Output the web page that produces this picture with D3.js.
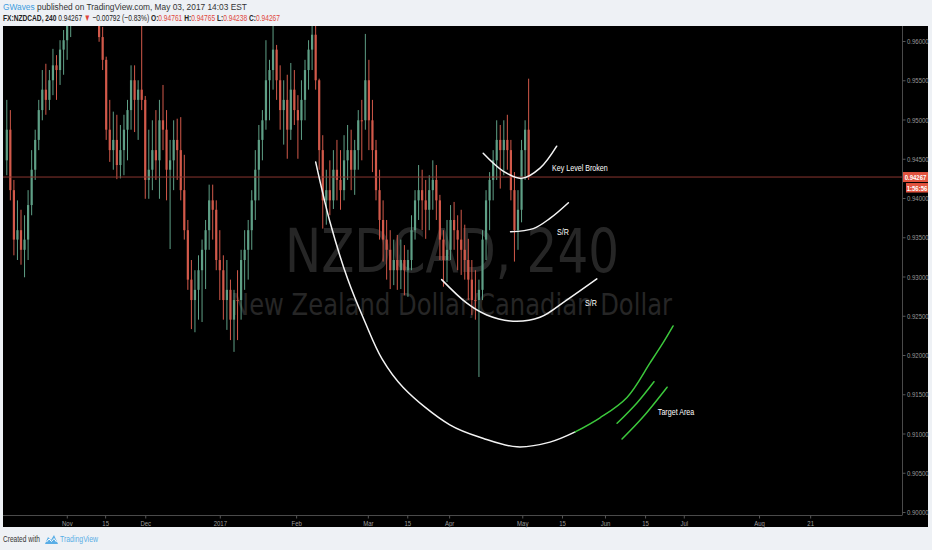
<!DOCTYPE html>
<html><head><meta charset="utf-8">
<script src="https://cdn.jsdelivr.net/npm/d3@7"></script>
<style>
html,body{margin:0;padding:0;background:#eef1f5;}
svg{display:block;font-family:"Liberation Sans",Arial,sans-serif;}
</style></head><body>
<svg id="c" width="932" height="550"></svg>
<script>
// ---- DATA (daily bars, NZDCAD) ----
const opens=[.9448,.9487,.9410,.9347,.9359,.9334,.9347,.9391,.9436,.9474,.9512,.9538,.9525,.9550,.9569,.9563,.9589,.9601,.9620,.9660,
.9700,.9730,.9720,.9700,.9690,.9660,.9640,.9605,.9576,.9487,.9461,.9474,.9442,.9461,.9487,.9512,.9550,.9525,.9538,.9525,
.9423,.9436,.9461,.9448,.9499,.9487,.9436,.9448,.9474,.9461,.9410,.9359,.9296,.9270,.9283,.9308,.9334,.9359,.9397,.9385,
.9321,.9308,.9270,.9283,.9245,.9270,.9270,.9321,.9334,.9359,.9397,.9436,.9474,.9499,.9550,.9563,.9589,.9550,.9512,.9525,
.9487,.9538,.9512,.9499,.9525,.9563,.9589,.9608,.9550,.9461,.9397,.9410,.9397,.9436,.9423,.9410,.9448,.9461,.9436,.9461,
.9499,.9499,.9550,.9499,.9461,.9410,.9372,.9347,.9334,.9308,.9321,.9308,.9321,.9308,.9321,.9359,.9397,.9410,.9397,.9385,
.9410,.9423,.9397,.9347,.9321,.9334,.9372,.9359,.9347,.9334,.9321,.9296,.9270,.9270,.9283,.9347,.9397,.9423,.9448,.9474,
.9461,.9474,.9461,.9410,.9359,.9385,.9461,.9487];
const highs=[.9525,.9512,.9423,.9397,.9385,.9378,.9410,.9461,.9487,.9525,.9563,.9571,.9563,.9590,.9582,.9601,.9614,.9639,.9680,.9720,
.9750,.9770,.9740,.9720,.9700,.9680,.9650,.9618,.9580,.9525,.9510,.9506,.9493,.9506,.9525,.9569,.9569,.9550,.9625,.9530,
.9487,.9499,.9512,.9525,.9544,.9512,.9474,.9499,.9501,.9503,.9455,.9372,.9321,.9308,.9327,.9347,.9372,.9417,.9417,.9397,
.9359,.9327,.9321,.9296,.9283,.9308,.9334,.9359,.9372,.9410,.9461,.9493,.9512,.9601,.9576,.9630,.9595,.9569,.9550,.9557,
.9572,.9563,.9531,.9550,.9576,.9601,.9630,.9625,.9552,.9480,.9436,.9448,.9461,.9474,.9461,.9480,.9493,.9487,.9474,.9512,
.9525,.9609,.9576,.9525,.9474,.9436,.9397,.9372,.9359,.9347,.9353,.9347,.9340,.9334,.9378,.9410,.9442,.9436,.9423,.9429,
.9448,.9442,.9404,.9359,.9372,.9391,.9395,.9378,.9385,.9366,.9348,.9321,.9308,.9296,.9359,.9410,.9433,.9461,.9499,.9493,
.9499,.9506,.9474,.9433,.9410,.9474,.9499,.9552];
const lows=[.9429,.9397,.9327,.9321,.9315,.9299,.9321,.9378,.9423,.9461,.9499,.9506,.9512,.9531,.9525,.9544,.9557,.9576,.9605,.9650,
.9690,.9700,.9680,.9660,.9640,.9625,.9599,.9563,.9474,.9446,.9436,.9424,.9425,.9429,.9448,.9487,.9484,.9474,.9512,.9399,
.9399,.9410,.9423,.9399,.9461,.9397,.9335,.9410,.9423,.9397,.9347,.9283,.9233,.9229,.9245,.9242,.9284,.9334,.9347,.9308,
.9270,.9245,.9232,.9219,.9204,.9219,.9245,.9283,.9296,.9334,.9372,.9397,.9448,.9487,.9499,.9538,.9525,.9487,.9468,.9450,
.9474,.9493,.9450,.9474,.9499,.9538,.9563,.9538,.9436,.9361,.9366,.9378,.9386,.9397,.9385,.9397,.9423,.9410,.9404,.9436,
.9448,.9487,.9461,.9433,.9397,.9347,.9319,.9296,.9284,.9289,.9283,.9284,.9276,.9274,.9308,.9347,.9372,.9359,.9348,.9359,
.9385,.9372,.9321,.9287,.9293,.9321,.9334,.9308,.9302,.9296,.9270,.9251,.9245,.9172,.9270,.9321,.9359,.9397,.9423,.9412,
.9429,.9436,.9397,.9319,.9334,.9369,.9423,.9423];
const closes=[.9487,.9410,.9347,.9359,.9334,.9347,.9391,.9436,.9474,.9512,.9538,.9525,.9550,.9569,.9563,.9589,.9601,.9620,.9660,.9700,
.9730,.9720,.9700,.9690,.9660,.9640,.9605,.9576,.9487,.9461,.9474,.9442,.9461,.9487,.9512,.9550,.9525,.9538,.9525,.9423,
.9436,.9461,.9448,.9499,.9487,.9436,.9448,.9474,.9461,.9410,.9359,.9296,.9270,.9283,.9308,.9334,.9359,.9397,.9385,.9321,
.9308,.9270,.9283,.9245,.9270,.9270,.9321,.9334,.9359,.9397,.9436,.9474,.9499,.9550,.9563,.9589,.9550,.9512,.9525,.9487,
.9538,.9512,.9499,.9525,.9563,.9589,.9608,.9550,.9461,.9397,.9410,.9397,.9436,.9423,.9410,.9448,.9461,.9436,.9461,.9499,
.9499,.9550,.9499,.9461,.9410,.9372,.9347,.9334,.9308,.9321,.9308,.9321,.9308,.9321,.9359,.9397,.9410,.9397,.9385,.9410,
.9423,.9397,.9347,.9321,.9334,.9372,.9359,.9347,.9334,.9321,.9296,.9270,.9270,.9283,.9347,.9397,.9423,.9448,.9474,.9461,
.9474,.9461,.9410,.9359,.9385,.9461,.9487,.94267];

const timeTickLabels=["Nov","15","Dec","2017","Feb","Mar","15","Apr","May","15","Jun","15","Jul","Aug","21"];
const timeTickIndex=[16.9,27.7,39.0,60.0,81.5,101.7,112.8,124.6,145.2,156.4,168.5,179.8,190.7,211.9,226.3];
const priceTicks=[0.900,0.905,0.910,0.915,0.920,0.925,0.930,0.935,0.940,0.945,0.950,0.955,0.960];
const lastPrice=0.94267;

// annotation drawings (bar index, price)
const bigArc=[[87.0,0.9446],[91.0,0.9370],[96.0,0.9297],[100.9,0.9242],[105.7,0.9195],[111.6,0.9159],[124.8,0.9111],[134.1,0.9094],[143.7,0.9083],[153.0,0.9089],[160.1,0.9102]];
const greenArc=[[160.1,0.9102],[167.1,0.9120],[174.7,0.9146],[181.2,0.9190],[184.8,0.9215],[187.7,0.9237]];
const green1=[[171.9,0.9113],[177.5,0.9139],[182.3,0.9166]];
const green2=[[173.3,0.9093],[179.2,0.9121],[186.0,0.9159]];
const lowerSR=[[122.5,0.9296],[129.6,0.9266],[135.2,0.9251],[142.6,0.9243],[150.2,0.9248],[157.7,0.9270],[166.2,0.9297]];
const upperSR=[[141.9,0.9357],[148.3,0.9361],[153.0,0.9374],[158.2,0.9394]];
const keyLevel=[[134.2,0.9457],[139.9,0.9434],[145.0,0.9425],[150.2,0.9438],[154.9,0.9466]];
const noteTexts=["Key Level Broken","S/R","S/R","Target Area"];
const noteIndex=[153.6,155.0,162.9,183.4];
const notePrice=[0.94338,0.93535,0.92618,0.91242];

// ---- DRAW ----
const svg=d3.select('#c');
const SX=0.75; // horizontal squeeze of glyphs seen in the picture
svg.append('rect').attr('width',932).attr('height',550).attr('fill','#eef1f5');
svg.append('rect').attr('x',3).attr('y',26).attr('width',925).attr('height',501).attr('fill','#000');

const x=d3.scaleLinear().domain([0,147]).range([6.8,528.65]);
const y=d3.scaleLinear().domain([0.90,0.96]).range([512,41]);

svg.append('defs').append('clipPath').attr('id','clip').append('rect')
  .attr('x',3).attr('y',26).attr('width',899).attr('height',489);

// watermark
const wm=svg.append('g').attr('fill','#262626').style('font-family','"DejaVu Sans",sans-serif');
wm.append('text').attr('x',285).attr('y',272).attr('font-size',60)
  .attr('textLength',334).attr('lengthAdjust','spacingAndGlyphs').text('NZDCAD, 240');
wm.append('text').attr('x',231).attr('y',315).attr('font-size',31)
  .attr('textLength',441).attr('lengthAdjust','spacingAndGlyphs').text('New Zealand Dollar/Canadian Dollar');

// candles
const up='#5f9f86', dn='#d2594a';
const idx=d3.range(closes.length);
const cg=svg.append('g').attr('clip-path','url(#clip)');
cg.selectAll('line.w').data(idx).join('line').attr('class','w')
  .attr('x1',i=>x(i)).attr('x2',i=>x(i))
  .attr('y1',i=>y(highs[i])).attr('y2',i=>y(lows[i]))
  .attr('stroke',i=>closes[i]>opens[i]?up:dn).attr('stroke-width',1);
cg.selectAll('rect.b').data(idx).join('rect').attr('class','b')
  .attr('x',i=>x(i)-1.1).attr('width',2.2)
  .attr('y',i=>y(Math.max(opens[i],closes[i])))
  .attr('height',i=>Math.max(1,Math.abs(y(opens[i])-y(closes[i]))))
  .attr('fill',i=>closes[i]>opens[i]?up:dn);

// last price line
svg.append('line').attr('x1',3).attr('x2',902).attr('y1',y(lastPrice)).attr('y2',y(lastPrice))
  .attr('stroke','#8a3630').attr('stroke-width',1);

// annotation curves
const ln=d3.line().x(d=>x(d[0])).y(d=>y(d[1])).curve(d3.curveCatmullRom.alpha(0.5));
const ag=svg.append('g').attr('fill','none').attr('stroke-linecap','round');
[bigArc,lowerSR,upperSR,keyLevel].forEach(a=>ag.append('path').attr('d',ln(a)).attr('stroke','#f4f4f4').attr('stroke-width',1.5));
[greenArc,green1,green2].forEach(a=>ag.append('path').attr('d',ln(a)).attr('stroke','#3cc83c').attr('stroke-width',1.5));
noteTexts.forEach((t,i)=>{
  svg.append('text').attr('transform',`translate(${x(noteIndex[i])},${y(notePrice[i])}) scale(${SX},1)`)
    .attr('font-size',9.5).attr('fill','#fff').text(t);
});

// separators
svg.append('line').attr('x1',902.5).attr('x2',902.5).attr('y1',26).attr('y2',515).attr('stroke','#4a4a4a');
svg.append('line').attr('x1',3).attr('x2',902.5).attr('y1',515.5).attr('y2',515.5).attr('stroke','#4a4a4a');

// price axis
const ya=svg.append('g').attr('transform','translate(902.5,0)')
  .call(d3.axisRight(y).tickValues(priceTicks).tickFormat(d3.format('.5f')).tickSize(3));
ya.select('.domain').remove();
ya.selectAll('line').attr('stroke','#555');
ya.selectAll('text').attr('fill','#9a9a9a').attr('font-size',8).style('font-family','"Liberation Sans",Arial,sans-serif')
  .attr('x',4.5/SX).attr('transform',`scale(${SX},1)`);

// time axis
const xa=svg.append('g').attr('transform','translate(0,515.5)')
  .call(d3.axisBottom(x).tickValues(timeTickIndex).tickFormat((d,i)=>timeTickLabels[i]).tickSize(3).tickPadding(1.5));
xa.select('.domain').remove();
xa.selectAll('line').attr('stroke','#555');
xa.selectAll('text').attr('fill','#9a9a9a').attr('font-size',8).style('font-family','"Liberation Sans",Arial,sans-serif')
  .attr('transform',`scale(${SX},1)`);

// price label boxes
const py=y(lastPrice);
svg.append('rect').attr('x',903).attr('y',py-5).attr('width',25).attr('height',10).attr('fill','#e2533f');
svg.append('text').attr('transform',`translate(915.5,${py+3}) scale(${SX},1)`).attr('text-anchor','middle')
  .attr('font-size',8).attr('font-weight','bold').attr('fill','#fff').text(d3.format('.5f')(lastPrice));
svg.append('rect').attr('x',906).attr('y',py+6).attr('width',22).attr('height',9.5).attr('fill','#e2533f');
svg.append('text').attr('transform',`translate(917,${py+13.5}) scale(${SX},1)`).attr('text-anchor','middle')
  .attr('font-size',8).attr('font-weight','bold').attr('fill','#fff').text('1:56:56');

// header
function fit(sel,x0,target){const w=sel.node().getComputedTextLength();sel.attr('transform',`translate(${x0},0) scale(${target/w},1)`);}
const h1=svg.append('text').attr('y',10.5).attr('font-size',9.5);
h1.append('tspan').attr('fill','#3f9ee0').text('GWaves');
h1.append('tspan').attr('fill','#333').text(' published on TradingView.com, May 03, 2017 14:03 EST');
fit(h1,3,244);
const h2=svg.append('text').attr('y',21.5).attr('font-size',9.5).attr('fill','#222');
const red='#e0463b';
[['FX:NZDCAD, 240','#222','bold'],[' 0.94267 ','#222','normal'],['\u25BC',red,'normal'],[' \u22120.00792 (\u22120.83%) ','#222','normal'],
 ['O:','#222','bold'],['0.94761',red,'normal'],[' H:','#222','bold'],['0.94765',red,'normal'],[' L:','#222','bold'],['0.94238',red,'normal'],
 [' C:','#222','bold'],['0.94267',red,'normal']].forEach(p=>h2.append('tspan').attr('fill',p[1]).attr('font-weight',p[2]).text(p[0]));
fit(h2,3,277);

// footer
const f1=svg.append('text').attr('y',542).attr('font-size',9.5).attr('fill','#333').text('Created with');
fit(f1,3,37);
svg.append('path').attr('d','M45,544 L48,537 L51,540 L54,535 L58,544 Z').attr('fill','#5aaee6');
svg.append('path').attr('d','M46.5,542 L49,539 L51.5,541.5 L54,538.5 L56.5,542').attr('fill','none').attr('stroke','#fff').attr('stroke-width',1);
const f2=svg.append('text').attr('y',542).attr('font-size',9.5).attr('fill','#5aaee6').text('TradingView');
fit(f2,60,38);
</script>
</body></html>
